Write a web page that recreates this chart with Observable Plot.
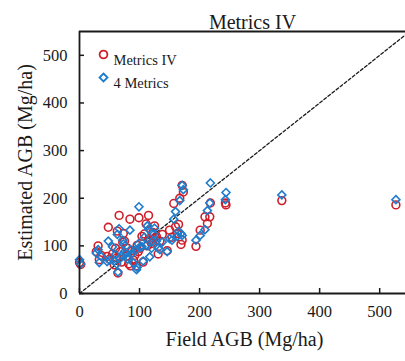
<!DOCTYPE html>
<html>
<head>
<meta charset="utf-8">
<script src="https://cdn.jsdelivr.net/npm/d3@7"></script>
<script src="https://cdn.jsdelivr.net/npm/@observablehq/plot@0.6"></script>
<style>
  html, body { margin: 0; padding: 0; background: #fff; }
  #chart svg { display: block; }
  #chart svg text { font-family: 'Liberation Serif', 'Times New Roman', serif; }
</style>
</head>
<body>
<div id="chart"></div>
<script>
const title = "Metrics IV";
const xLabel = "Field AGB (Mg/ha)";
const yLabel = "Estimated AGB (Mg/ha)";
const seriesNames = ["Metrics IV", "4 Metrics"];
const xTicks = [0, 100, 200, 300, 400, 500];
const yTicks = [0, 100, 200, 300, 400, 500];
const xDomain = [0, 543];
const yDomain = [0, 550];
const oneToOne = [0, 543];

const fieldAGB = [0, 2, 28, 31, 33, 36, 46, 48, 50, 55, 58, 60, 62, 63, 64, 66, 68, 70, 72, 73,
  75, 78, 80, 82, 84, 85, 88, 90, 92, 95, 96, 98, 99, 101, 104, 106, 108, 111, 113, 115,
  117, 120, 122, 124, 125, 128, 131, 134, 138, 146, 150, 154, 157, 160, 163, 165, 167, 169, 171, 171,
  173, 194, 201, 209, 213, 217, 218, 244, 243, 337, 527];
const estMetricsIV = [65, 61, 88, 100, 71, 80, 78, 139, 72, 83, 60, 95, 75, 131, 43, 164, 88, 66, 108, 126,
  110, 78, 95, 62, 156, 58, 90, 70, 80, 58, 101, 88, 159, 95, 120, 66, 125, 146, 100, 164,
  112, 105, 128, 115, 142, 120, 83, 110, 124, 90, 133, 118, 189, 140, 126, 145, 200, 103, 112, 227,
  213, 99, 133, 161, 147, 161, 190, 186, 190, 195, 186];
const est4Metrics = [71, 62, 85, 92, 65, 78, 67, 110, 70, 98, 68, 82, 62, 124, 45, 136, 74, 80, 112, 104,
  88, 84, 72, 76, 133, 92, 84, 64, 90, 50, 55, 104, 182, 98, 98, 68, 118, 101, 142, 135,
  77, 95, 110, 125, 137, 110, 95, 92, 108, 88, 115, 112, 156, 172, 120, 130, 195, 126, 122, 227,
  218, 112, 122, 134, 174, 190, 232, 212, 197, 207, 197];

const rows = fieldAGB.map((f, i) => ({field: f, iv: estMetricsIV[i], m4: est4Metrics[i]}));

const red = "#cf1f2a";
const blue = "#1f7ccc";
const ink = "#1a1a1a";
const serif = "'Liberation Serif', 'Times New Roman', serif";

const chart = Plot.plot({
  width: 405,
  height: 361,
  marginLeft: 79,
  marginRight: 0,
  marginTop: 31,
  marginBottom: 68,
  style: {fontFamily: serif, fontSize: "16px", color: ink, background: "#fff"},
  x: {domain: xDomain, axis: null},
  y: {domain: yDomain, axis: null},
  marks: [
    Plot.line(oneToOne, {x: d => d, y: d => d, stroke: ink, strokeWidth: 1.3, strokeDasharray: "3,2.2", clip: true}),
    Plot.dot(rows, {x: "field", y: "iv", symbol: "circle", r: 3.9, stroke: red, strokeWidth: 1.6, fill: "none"}),
    Plot.dot(rows, {x: "field", y: "m4", symbol: "diamond2", r: 3.6, stroke: blue, strokeWidth: 1.6, fill: "none"}),
    Plot.ruleY([yDomain[0]], {stroke: ink, strokeWidth: 1.8}),
    Plot.ruleY([yDomain[1]], {stroke: ink, strokeWidth: 1.8}),
    Plot.ruleX([xDomain[0]], {stroke: ink, strokeWidth: 1.8}),
    Plot.axisX({ticks: xTicks, tickSize: -5, tickFormat: () => "", label: null, stroke: ink, strokeWidth: 1.5}),
    Plot.axisY({ticks: yTicks, tickSize: -5, tickFormat: () => "", label: null, stroke: ink, strokeWidth: 1.5}),
    Plot.text(xTicks, {x: d => d, frameAnchor: "bottom", dy: 23, text: d => String(d), fontSize: 16.5, fontFamily: serif, fill: ink}),
    Plot.text(yTicks, {y: d => d, frameAnchor: "left", dx: -12, textAnchor: "end", text: d => String(d), fontSize: 16.5, fontFamily: serif, fill: ink}),
    Plot.text([title], {frameAnchor: "top", dx: 10, dy: -17, fontSize: 20, fontFamily: serif, fill: ink}),
    Plot.text([xLabel], {frameAnchor: "bottom", dx: 2, dy: 52, fontSize: 20, fontFamily: serif, fill: ink}),
    Plot.text([yLabel], {frameAnchor: "left", dx: -54, rotate: -90, textAnchor: "middle", fontSize: 20, fontFamily: serif, fill: ink}),
    Plot.dot([seriesNames[0]], {frameAnchor: "top-left", dx: 24, dy: 23, symbol: "circle", r: 3.9, stroke: red, strokeWidth: 1.8, fill: "none"}),
    Plot.dot([seriesNames[1]], {frameAnchor: "top-left", dx: 24, dy: 46, symbol: "diamond2", r: 3.6, stroke: blue, strokeWidth: 1.8, fill: "none"}),
    Plot.text([seriesNames[0]], {frameAnchor: "top-left", dx: 34, dy: 23, textAnchor: "start", fontSize: 14.5, fontFamily: serif, fill: ink}),
    Plot.text([seriesNames[1]], {frameAnchor: "top-left", dx: 34, dy: 46, textAnchor: "start", fontSize: 14.5, fontFamily: serif, fill: ink})
  ]
});
document.getElementById("chart").appendChild(chart);
</script>
</body>
</html>
